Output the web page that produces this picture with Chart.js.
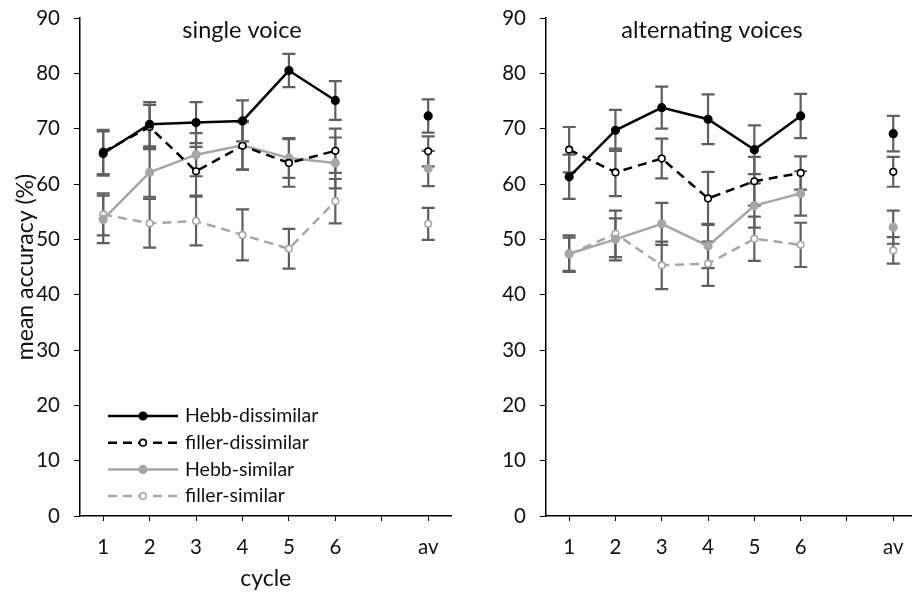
<!DOCTYPE html>
<html>
<head>
<meta charset="utf-8">
<title>mean accuracy by cycle</title>
<script src="https://cdn.jsdelivr.net/npm/chart.js@4.4.1/dist/chart.umd.min.js"></script>
<style>
  html, body { margin: 0; padding: 0; background: #fff; overflow: hidden; }
  body { width: 912px; height: 595px; position: relative; }
  canvas { position: absolute; top: 0; }
  #singleChart { left: 0; }
  #altChart { left: 460px; }
</style>
</head>
<body>
<canvas id="singleChart" width="457" height="595"></canvas>
<canvas id="altChart" width="462" height="595"></canvas>
<script>
// cycles 1-6, a spacer slot, then the average
const cycles = ['1', '2', '3', '4', '5', '6', '', 'av'];
const yTickValues = [0, 10, 20, 30, 40, 50, 60, 70, 80, 90];
const seriesNames = ['Hebb-dissimilar', 'filler-dissimilar', 'Hebb-similar', 'filler-similar'];

// single voice
const hebbDissSingle      = [65.5, 70.8, 71.1, 71.4, 80.5, 75.1, null, 72.3];
const hebbDissSingleErr   = [4.0, 4.0, 3.7, 3.7, 3.0, 3.5, null, 3.0];
const fillerDissSingle    = [65.8, 70.3, 62.3, 66.9, 63.8, 66.0, null, 65.9];
const fillerDissSingleErr = [4.0, 4.0, 4.4, 4.3, 4.3, 4.0, null, 2.7];
const hebbSimSingle       = [53.6, 62.1, 65.3, 67.0, 64.7, 63.8, null, 62.8];
const hebbSimSingleErr    = [4.3, 4.4, 3.9, 4.4, 3.6, 4.6, null, 3.2];
const fillerSimSingle     = [54.5, 52.9, 53.3, 50.8, 48.3, 56.9, null, 52.8];
const fillerSimSingleErr  = [3.8, 4.4, 4.4, 4.6, 3.6, 4.0, null, 2.9];

// alternating voices
const hebbDissAlt      = [61.3, 69.7, 73.8, 71.7, 66.2, 72.3, null, 69.1];
const hebbDissAltErr   = [4.0, 3.7, 3.8, 4.5, 4.4, 4.0, null, 3.2];
const fillerDissAlt    = [66.2, 62.1, 64.6, 57.4, 60.5, 62.0, null, 62.2];
const fillerDissAltErr = [4.1, 4.3, 3.6, 4.8, 4.4, 3.0, null, 2.7];
const hebbSimAlt       = [47.4, 50.0, 52.8, 48.8, 56.1, 58.3, null, 52.2];
const hebbSimAltErr    = [3.3, 3.8, 3.8, 4.0, 4.0, 4.0, null, 3.0];
const fillerSimAlt     = [47.3, 51.0, 45.3, 45.6, 50.1, 49.0, null, 48.0];
const fillerSimAltErr  = [3.0, 4.2, 4.3, 4.0, 4.0, 4.0, null, 2.4];

const FONT = 'Lato, "Open Sans", sans-serif';
const TEXT = '#111111';
const DARK = '#000000';
const LIGHT = '#a6a6a6';

// line + marker look for the four series, in seriesNames order
const seriesStyles = [
  { color: DARK,  dash: [],     fill: DARK,    radius: 3.8 },
  { color: DARK,  dash: [9, 6], fill: '#fff',  radius: 3.3 },
  { color: LIGHT, dash: [],     fill: LIGHT,   radius: 3.8 },
  { color: LIGHT, dash: [9, 6], fill: '#fff',  radius: 3.3 }
];

function buildDatasets(values, errors) {
  return values.map((data, i) => {
    const s = seriesStyles[i];
    return {
      label: seriesNames[i],
      data: data,
      errors: errors[i],
      borderColor: s.color,
      borderWidth: 2.5,
      borderDash: s.dash,
      pointRadius: s.radius,
      pointBorderWidth: 1.6,
      pointBackgroundColor: s.fill,
      pointBorderColor: s.color,
      tension: 0,
      spanGaps: false
    };
  });
}

// vertical error bars with caps, under the lines
const errorBars = {
  id: 'errorBars',
  beforeDatasetsDraw(chart) {
    const { ctx } = chart;
    const y = chart.scales.y;
    ctx.save();
    ctx.strokeStyle = '#5f5f5f';
    ctx.lineWidth = 2.2;
    chart.data.datasets.forEach((ds, i) => {
      const meta = chart.getDatasetMeta(i);
      meta.data.forEach((pt, j) => {
        const v = ds.data[j];
        const e = ds.errors[j];
        if (v == null || e == null) return;
        const top = y.getPixelForValue(v + e);
        const bot = y.getPixelForValue(v - e);
        ctx.beginPath();
        ctx.moveTo(pt.x, top); ctx.lineTo(pt.x, bot);
        ctx.moveTo(pt.x - 6.5, top); ctx.lineTo(pt.x + 6.5, top);
        ctx.moveTo(pt.x - 6.5, bot); ctx.lineTo(pt.x + 6.5, bot);
        ctx.stroke();
      });
    });
    ctx.restore();
  }
};

// panel heading drawn inside the plot area
const panelTitle = {
  id: 'panelTitle',
  afterDraw(chart, args, opts) {
    if (!opts.text) return;
    const { ctx } = chart;
    ctx.save();
    ctx.font = '23.5px ' + FONT;
    ctx.fillStyle = TEXT;
    ctx.textAlign = 'center';
    ctx.textBaseline = 'middle';
    ctx.fillText(opts.text, opts.x, opts.y);
    ctx.restore();
  }
};

// legend box in the lower left of the single voice panel
const insideLegend = {
  id: 'insideLegend',
  afterDraw(chart, args, opts) {
    if (!opts.show) return;
    const { ctx } = chart;
    ctx.save();
    chart.data.datasets.forEach((ds, i) => {
      const y = opts.top + i * opts.step;
      ctx.strokeStyle = ds.borderColor;
      ctx.lineWidth = 2.5;
      ctx.setLineDash(ds.borderDash);
      ctx.beginPath();
      ctx.moveTo(opts.left, y);
      ctx.lineTo(opts.left + 70, y);
      ctx.stroke();
      ctx.setLineDash([]);
      ctx.beginPath();
      ctx.arc(opts.left + 35, y, ds.pointRadius, 0, Math.PI * 2);
      ctx.fillStyle = ds.pointBackgroundColor;
      ctx.fill();
      ctx.lineWidth = 1.6;
      ctx.strokeStyle = ds.pointBorderColor;
      ctx.stroke();
      ctx.font = '19.5px ' + FONT;
      ctx.fillStyle = TEXT;
      ctx.textAlign = 'left';
      ctx.textBaseline = 'middle';
      ctx.fillText(ds.label, opts.left + 77, y);
    });
    ctx.restore();
  }
};

function makeChart(id, datasets, o) {
  return new Chart(document.getElementById(id), {
    type: 'line',
    data: { labels: cycles, datasets: datasets },
    plugins: [errorBars, panelTitle, insideLegend],
    options: {
      responsive: false,
      animation: false,
      layout: { padding: { top: 18, right: 0, left: 0, bottom: 0 } },
      plugins: {
        legend: { display: false },
        tooltip: { enabled: false },
        panelTitle: { text: o.title, x: o.titleX, y: 30 },
        insideLegend: { show: o.legend, left: 108, top: 416, step: 26.7 }
      },
      scales: {
        x: {
          type: 'category',
          offset: true,
          grid: { display: true, drawOnChartArea: false, drawTicks: true, tickLength: 5, color: DARK, offset: false },
          border: { display: true, color: DARK, width: 1.5 },
          ticks: { color: TEXT, font: { family: FONT, size: 20.5 }, padding: 14, maxRotation: 0, autoSkip: false },
          title: { display: !!o.xTitle, text: o.xTitle, color: TEXT, font: { family: FONT, size: 23 }, padding: { top: 0, bottom: 3 } },
          afterFit(scale) { scale.height = 79; }
        },
        y: {
          min: 0,
          max: 90,
          afterBuildTicks(scale) { scale.ticks = yTickValues.map(v => ({ value: v })); },
          grid: { display: true, drawOnChartArea: false, drawTicks: true, tickLength: 6, color: DARK },
          border: { display: true, color: DARK, width: 1.5 },
          ticks: { color: TEXT, font: { family: FONT, size: 20.5 }, padding: 14 },
          title: { display: !!o.yTitle, text: o.yTitle, color: TEXT, font: { family: FONT, size: 23 }, padding: { top: 12, bottom: 0 } },
          afterFit(scale) {
            scale.width = o.yWidth;
            // keep the label gap from pushing the plot area down
            scale.paddingTop = 8;
            scale.paddingBottom = 8;
          }
        }
      }
    }
  });
}

makeChart('singleChart',
  buildDatasets([hebbDissSingle, fillerDissSingle, hebbSimSingle, fillerSimSingle],
                [hebbDissSingleErr, fillerDissSingleErr, hebbSimSingleErr, fillerSimSingleErr]),
  { title: 'single voice', titleX: 242, legend: true, xTitle: 'cycle', yTitle: 'mean accuracy (%)', yWidth: 80 });

makeChart('altChart',
  buildDatasets([hebbDissAlt, fillerDissAlt, hebbSimAlt, fillerSimAlt],
                [hebbDissAltErr, fillerDissAltErr, hebbSimAltErr, fillerSimAltErr]),
  { title: 'alternating voices', titleX: 252, legend: false, xTitle: '', yTitle: '', yWidth: 86 });
</script>
</body>
</html>
